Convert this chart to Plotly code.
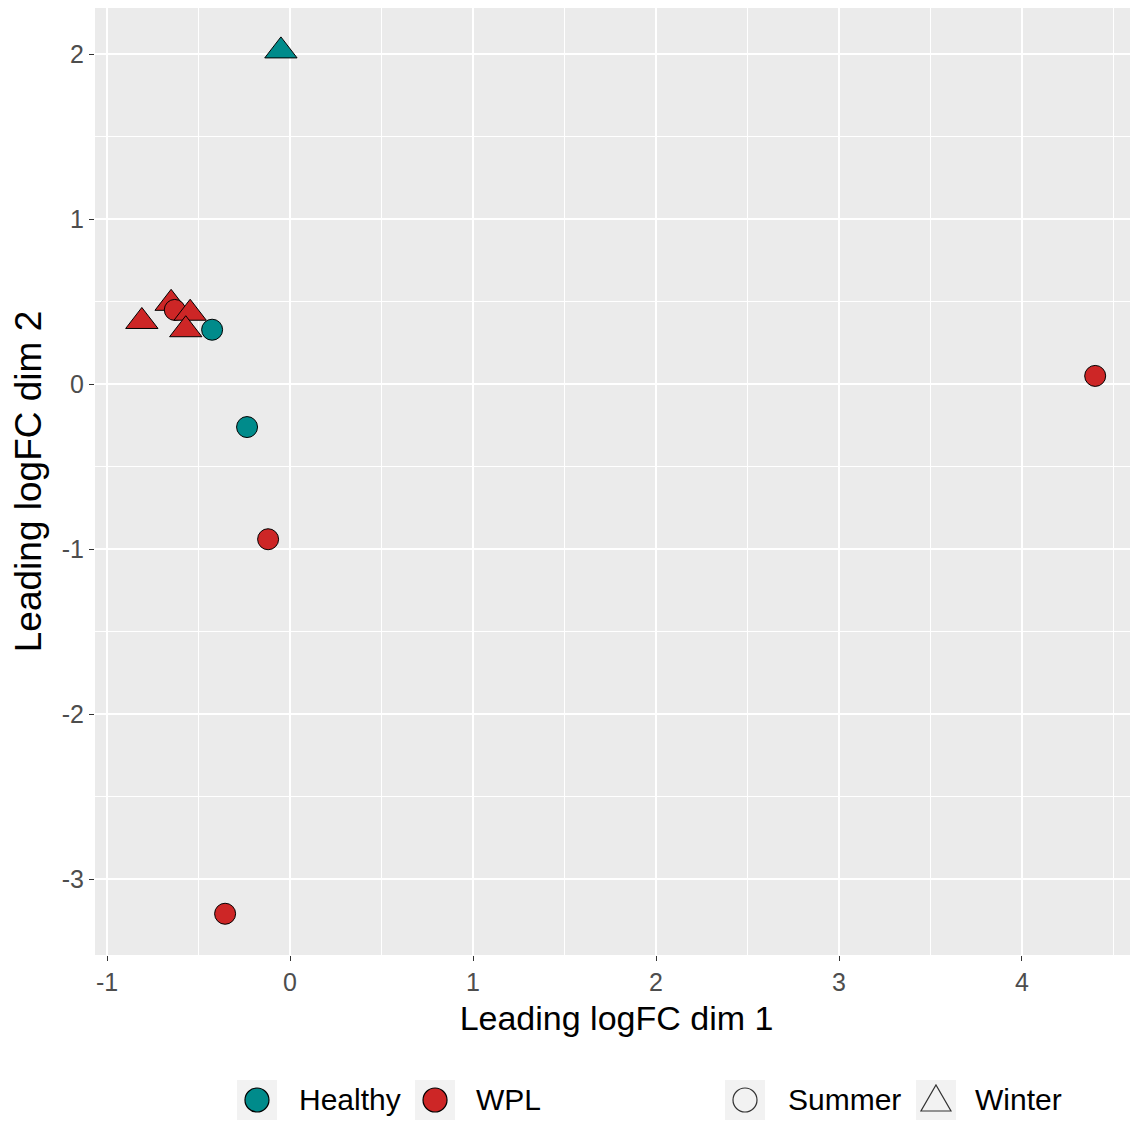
import plotly.graph_objects as go

# Data
dim1 = [-0.05, -0.81, -0.65, -0.63, -0.546, -0.57, -0.426, -0.235, -0.12, -0.355, 4.40]
dim2 = [2.02, 0.38, 0.49, 0.45, 0.43, 0.33, 0.33, -0.26, -0.94, -3.21, 0.05]
group = ["Healthy", "WPL", "WPL", "WPL", "WPL", "WPL", "Healthy", "Healthy", "WPL", "WPL", "WPL"]
season = ["Winter", "Winter", "Winter", "Summer", "Winter", "Winter", "Summer", "Summer", "Summer", "Summer", "Summer"]

group_levels = ["Healthy", "WPL"]
season_levels = ["Summer", "Winter"]
group_colors = {"Healthy": "#008B8B", "WPL": "#CD2626"}
season_symbols = {"Summer": "circle", "Winter": "triangle-up"}
season_sizes = {"Summer": 21, "Winter": 28}

x_ticks = [-1, 0, 1, 2, 3, 4]
x_tick_labels = ["-1", "0", "1", "2", "3", "4"]
y_ticks = [-3, -2, -1, 0, 1, 2]
y_tick_labels = ["-3", "-2", "-1", "0", "1", "2"]

FONT = "Liberation Sans, Arial, sans-serif"

fig = go.Figure()
fig.add_trace(go.Scatter(
    x=dim1, y=dim2, mode="markers", showlegend=False,
    marker=dict(
        color=[group_colors[g] for g in group],
        symbol=[season_symbols[s] for s in season],
        size=[season_sizes[s] for s in season],
        line=dict(color="black", width=1),
        opacity=1,
    ),
    hoverinfo="x+y",
))

# ---- legend drawn as pixel-sized shapes + annotations at the bottom ----
LEG_Y = -0.1531
group_key_x = [0.1553, 0.3260]
group_text_x = [0.1937, 0.3634]
season_key_x = [0.6232, 0.8063]
season_text_x = [0.6625, 0.8418]

shapes = []
annotations = []


def key_box(xa):
    return dict(type="rect", xref="paper", yref="paper", xsizemode="pixel", ysizemode="pixel",
                xanchor=xa, yanchor=LEG_Y, x0=-20, x1=20, y0=-20, y1=20,
                fillcolor="#F2F2F2", line=dict(width=0), layer="below")


def label(xa, text):
    return dict(xref="paper", yref="paper", x=xa, y=LEG_Y, xanchor="left", yanchor="middle",
                text=text, showarrow=False, font=dict(family=FONT, size=30, color="black"))


for g, kx, tx in zip(group_levels, group_key_x, group_text_x):
    shapes.append(key_box(kx))
    shapes.append(dict(type="circle", xref="paper", yref="paper", xsizemode="pixel", ysizemode="pixel",
                       xanchor=kx, yanchor=LEG_Y, x0=-12, x1=12, y0=-12, y1=12,
                       fillcolor=group_colors[g], line=dict(color="black", width=1.2)))
    annotations.append(label(tx, g))

for s, kx, tx in zip(season_levels, season_key_x, season_text_x):
    shapes.append(key_box(kx))
    if season_symbols[s] == "circle":
        shapes.append(dict(type="circle", xref="paper", yref="paper", xsizemode="pixel", ysizemode="pixel",
                           xanchor=kx, yanchor=LEG_Y, x0=-12, x1=12, y0=-12, y1=12,
                           fillcolor="rgba(0,0,0,0)", line=dict(color="#333333", width=1.2)))
    else:
        shapes.append(dict(type="path", xref="paper", yref="paper", xsizemode="pixel", ysizemode="pixel",
                           xanchor=kx, yanchor=LEG_Y, path="M -15,-11 L 15,-11 L 0,15 Z",
                           fillcolor="rgba(0,0,0,0)", line=dict(color="#333333", width=1.2)))
    annotations.append(label(tx, s))

axis_common = dict(
    showgrid=True, gridcolor="white", gridwidth=1.8,
    ticks="outside", ticklen=5, tickwidth=1.3, tickcolor="#333333",
    tickfont=dict(family=FONT, size=25, color="#4D4D4D"),
    zeroline=False, showline=False,
    minor=dict(showgrid=True, gridcolor="white", gridwidth=0.8, dtick=0.5, ticks=""),
)

fig.update_layout(
    width=1130, height=1114,
    margin=dict(l=87, r=0, t=0, b=167),
    paper_bgcolor="white", plot_bgcolor="#EBEBEB",
    font=dict(family=FONT),
    showlegend=False,
    shapes=shapes,
    annotations=annotations,
    xaxis=dict(axis_common, range=[-1.066, 4.634], tickvals=x_ticks, ticktext=x_tick_labels,
               title=dict(text="Leading logFC dim 1", font=dict(family=FONT, size=34, color="black"), standoff=11)),
    yaxis=dict(axis_common, range=[-3.46, 2.28], tickvals=y_ticks, ticktext=y_tick_labels,
               title=dict(text="Leading logFC dim 2", font=dict(family=FONT, size=37, color="black"), standoff=8)),
)

fig.write_html("out.html")
